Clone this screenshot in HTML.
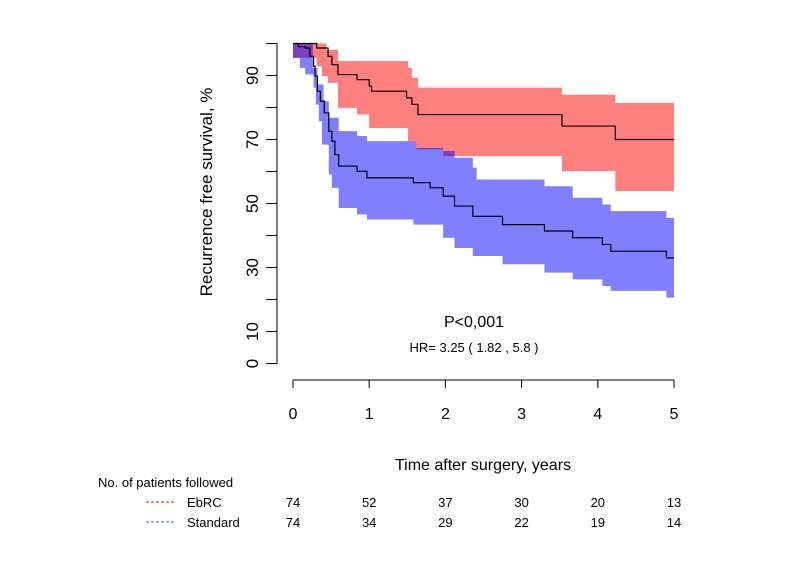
<!DOCTYPE html>
<html><head><meta charset="utf-8"><style>
body{margin:0;background:#fff;}
svg text{font-family:"Liberation Sans",Arial,sans-serif;fill:#000;}
</style></head><body>
<svg id="chart" width="804" height="583" viewBox="0 0 804 583" xmlns="http://www.w3.org/2000/svg">
<g id="bands"></g>
<g id="lines"></g>
<g id="axes" stroke="#000" stroke-width="1" fill="none"></g>
<g id="labels"></g>
<text x="0" y="0" font-size="17" text-anchor="middle" transform="translate(212,192) rotate(-90)">Recurrence free survival, %</text>
<text x="483" y="470" font-size="16" text-anchor="middle">Time after surgery, years</text>
<text x="474" y="327" font-size="16" text-anchor="middle">P&lt;0,001</text>
<text x="474" y="352" font-size="13" text-anchor="middle">HR= 3.25 ( 1.82 , 5.8 )</text>
<text x="98" y="487" font-size="13">No. of patients followed</text>
<line x1="146" y1="502" x2="176" y2="502" stroke="#f00" stroke-dasharray="3,2"/>
<text x="187" y="507" font-size="13">EbRC</text>
<line x1="146" y1="522" x2="176" y2="522" stroke="#36c" stroke-dasharray="3,2"/>
<text x="187" y="527" font-size="13">Standard</text>
</svg>
<script>
const redT=[0,0.31,0.46,0.51,0.59,0.84,1.0,1.03,1.49,1.56,1.64,3.53,4.23];
const redV=[100,98.6,96,93.4,90.3,88.7,86.7,85.1,83,81,77.8,74.2,70];
const redUpT=[0,0.44,0.59,1.51,1.56,1.64,3.53,4.23];
const redUpV=[100,98,94.5,92.4,89.3,86.2,84,81.4];
const redLoT=[0,0.31,0.38,0.46,0.59,0.84,1.0,1.51,1.62,1.97,3.53,4.23];
const redLoV=[95.5,92.9,89.8,87.7,79.9,77.8,73.6,69.5,66.9,64.8,60.1,53.9];
const bluT=[0,0.07,0.16,0.22,0.27,0.29,0.32,0.36,0.41,0.47,0.51,0.55,0.6,0.84,0.97,1.58,1.8,1.97,2.12,2.36,2.75,3.3,3.67,4.06,4.17,4.9];
const bluV=[100,99,98.6,96,92.9,89.8,85.1,82,78.3,72.6,69.5,65.3,61.7,60.1,58,56.5,54.9,52.3,49.2,46,43.4,41.4,39.3,37.2,35.1,33];
const bluUpT=[0,0.26,0.32,0.40,0.47,0.6,0.84,0.97,1.62,1.97,2.12,2.36,2.41,3.3,3.67,4.06,4.17,4.9];
const bluUpV=[100,92.4,87.2,82,76.8,72.6,71.1,69.5,67.4,66.4,64.3,61.2,57.5,55.4,51.8,49.7,47.6,45.5];
const bluLoT=[0,0.09,0.16,0.27,0.30,0.34,0.38,0.47,0.51,0.6,0.84,0.97,1.58,1.97,2.12,2.36,2.75,3.3,3.67,4.06,4.17,4.9];
const bluLoV=[95.5,92.4,90.3,86.2,80.9,75.7,68.4,59.1,54.9,48.6,46.6,45,43.4,39.3,36.1,33.6,31,28.4,26.3,24.2,22.7,20.6];
const xTicks=[0,1,2,3,4,5];
const yTicks=[0,10,20,30,40,50,60,70,80,90,100];
const yLabels=[0,10,30,50,70,90];
const riskEbrc=[74,52,37,30,20,13];
const riskStd=[74,34,29,22,19,14];
const tMax=5;
const NS='http://www.w3.org/2000/svg';
const X=t=>293+t*76.2;
const Y=v=>363.5-v*3.2;
function stepPts(T,V){let p=[];for(let i=0;i<T.length;i++){const tn=i+1<T.length?T[i+1]:tMax;p.push([X(T[i]),Y(V[i])],[X(tn),Y(V[i])]);}return p;}
function mk(tag,attrs,parent){const e=document.createElementNS(NS,tag);for(const k in attrs)e.setAttribute(k,attrs[k]);parent.appendChild(e);return e;}
const bands=document.getElementById('bands'),lines=document.getElementById('lines'),axes=document.getElementById('axes'),labels=document.getElementById('labels');
function band(UT,UV,LT,LV,col,name){const u=stepPts(UT,UV),l=stepPts(LT,LV).reverse();const pts=u.concat(l).map(p=>p.join(',')).join(' ');
const e=mk('polygon',{points:pts,fill:col,'fill-opacity':0.5},bands);

}
band(redUpT,redUpV,redLoT,redLoV,'#ff0000','ebrc-ci-band');
band(bluUpT,bluUpV,bluLoT,bluLoV,'#0000ff','standard-ci-band');
function line(T,V,name){const e=mk('polyline',{points:stepPts(T,V).map(p=>p.join(',')).join(' '),fill:'none',stroke:'#000','stroke-width':1.2},lines);

}
line(redT,redV,'ebrc-survival-line');
line(bluT,bluV,'standard-survival-line');
mk('line',{x1:277,y1:Y(0),x2:277,y2:Y(100)},axes);
yTicks.forEach(v=>{const e=mk('line',{x1:266,y1:Y(v),x2:277,y2:Y(v)},axes);

});
yLabels.forEach(v=>{const e=mk('text',{x:0,y:0,'font-size':17,'text-anchor':'middle',transform:`translate(258,${Y(v)}) rotate(-90)`},labels);e.textContent=v;

});
mk('line',{x1:X(0),y1:380,x2:X(5),y2:380},axes);
xTicks.forEach((t,i)=>{const tk=mk('line',{x1:X(t),y1:380,x2:X(t),y2:388},axes);


const e=mk('text',{x:X(t),y:419,'font-size':16,'text-anchor':'middle'},labels);e.textContent=t;


const a=mk('text',{x:X(t),y:507,'font-size':13,'text-anchor':'middle'},labels);a.textContent=riskEbrc[i];


const b=mk('text',{x:X(t),y:527,'font-size':13,'text-anchor':'middle'},labels);b.textContent=riskStd[i];

});
</script>
</body></html>
